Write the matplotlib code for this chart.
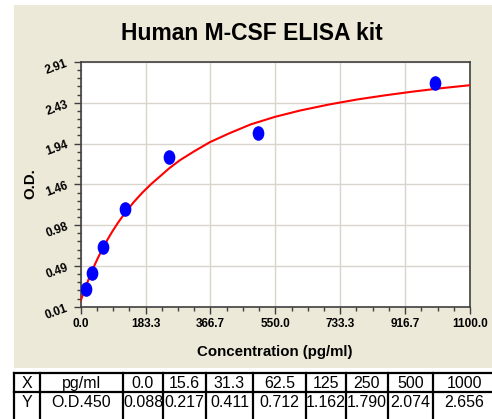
import matplotlib
matplotlib.use('Agg')
import numpy as np
from matplotlib import pyplot as plt
from matplotlib.patches import Rectangle
from matplotlib.path import Path
from matplotlib.transforms import Affine2D

plt.rcParams['font.family'] = ['Liberation Sans', 'DejaVu Sans']

# standards
conc = [0.0, 15.6, 31.3, 62.5, 125, 250, 500, 1000]
od = [0.088, 0.217, 0.411, 0.712, 1.162, 1.790, 2.074, 2.656]
conc_labels = ['0.0', '15.6', '31.3', '62.5', '125', '250', '500', '1000']
od_labels = ['0.088', '0.217', '0.411', '0.712', '1.162', '1.790', '2.074', '2.656']

# fitted curve
curve_x = [0, 10, 20, 30, 40, 50, 62.5, 75, 90, 105, 125, 150, 175, 200, 225, 250, 280, 320,
           365, 420, 480, 549, 620, 700, 780, 860, 940, 1020, 1100]
curve_y = [0.08, 0.20, 0.31, 0.414, 0.51, 0.60, 0.70, 0.80, 0.906, 1.003, 1.12, 1.25, 1.365,
           1.467, 1.558, 1.65, 1.745, 1.85, 1.96, 2.065, 2.17, 2.26, 2.335, 2.405, 2.465,
           2.515, 2.56, 2.60, 2.635]

x_ticks = [0.0, 183.3, 366.7, 550.0, 733.3, 916.7, 1100.0]
y_ticks = [0.01, 0.49, 0.98, 1.46, 1.94, 2.43, 2.91]

W, H = 492, 419
fig = plt.figure(figsize=(W / 100, H / 100), dpi=100)
fig.patch.set_facecolor('white')

# beige panel
fig.patches.append(Rectangle((14 / W, 1 - 368 / H), 1 - 14 / W, (368 - 5) / H,
                             transform=fig.transFigure, facecolor='#ECE9D8',
                             edgecolor='none', zorder=-5))

ax = fig.add_axes([80.7 / W, 1 - 306.7 / H, (470 - 80.7) / W, (306.7 - 62) / H], zorder=2)
ax.set_facecolor('white')
ax.set_xlim(0, 1100)
ax.set_ylim(0.01, 2.91)

ax.plot(curve_x, curve_y, color='#FF0000', lw=1.5, zorder=3)
ell = Path.unit_circle().transformed(Affine2D().scale(0.78, 1.0))
ax.plot(conc[1:], od[1:], linestyle='none', marker=ell, markersize=9.5,
        color='#0000FF', zorder=4)

x_major = np.linspace(0, 1100, 7)
y_major = np.linspace(0.01, 2.91, 7)
ax.set_xticks(x_major)
ax.set_xticklabels(['%.1f' % v for v in x_ticks], fontsize=8.5, fontweight='bold')
ax.set_yticks(y_major)
ax.set_yticklabels(['%.2f' % v for v in y_ticks], fontsize=8.5, fontweight='bold', rotation=20)
ax.set_xticks(np.linspace(0, 1100, 25), minor=True)
ax.set_yticks(np.linspace(0.01, 2.91, 31), minor=True)
ax.tick_params(which='major', direction='out', length=5, width=1, color='#404040', pad=3)
ax.tick_params(which='minor', direction='out', length=3, width=1, color='#404040')
ax.grid(True, which='major', color='#D8D5CC', lw=1, zorder=0)
ax.set_axisbelow(True)
for s in ax.spines.values():
    s.set_color('#404040')
    s.set_linewidth(1.2)

fig.text(252 / W, 1 - 33 / H, 'Human M-CSF ELISA kit', ha='center', va='center',
         fontsize=16.5, fontweight='bold')
fig.text(275 / W, 1 - 352 / H, 'Concentration (pg/ml)', ha='center', va='center',
         fontsize=10.8, fontweight='bold')
fig.text(30 / W, 1 - 184 / H, 'O.D.', ha='center', va='center', rotation=90,
         fontsize=10.8, fontweight='bold')

# table under the chart, in pixel coordinates
tab = fig.add_axes([0, 0, 1, 1], zorder=1)
tab.set_xlim(0, W)
tab.set_ylim(H, 0)
tab.axis('off')
cols = [14, 40, 123, 163, 206, 253, 306, 346, 388, 433, 500]
rows = [373, 392, 412]
row_text = [['X', 'pg/ml'] + conc_labels, ['Y', 'O.D.450'] + od_labels]
for c in cols:
    tab.plot([c, c], [rows[0], H + 2], color='black', lw=1.6)
for r in rows[:2]:
    tab.plot([cols[0], W + 2], [r, r], color='black', lw=1.6)
for i, row in enumerate(row_text):
    yc = (rows[i] + rows[i + 1]) / 2 + 0.5
    for j, t in enumerate(row):
        xc = (cols[j] + min(cols[j + 1], W + 4)) / 2
        tab.text(xc, yc, t, ha='center', va='center', fontsize=11.5)

fig.savefig('out.png', dpi=100)
